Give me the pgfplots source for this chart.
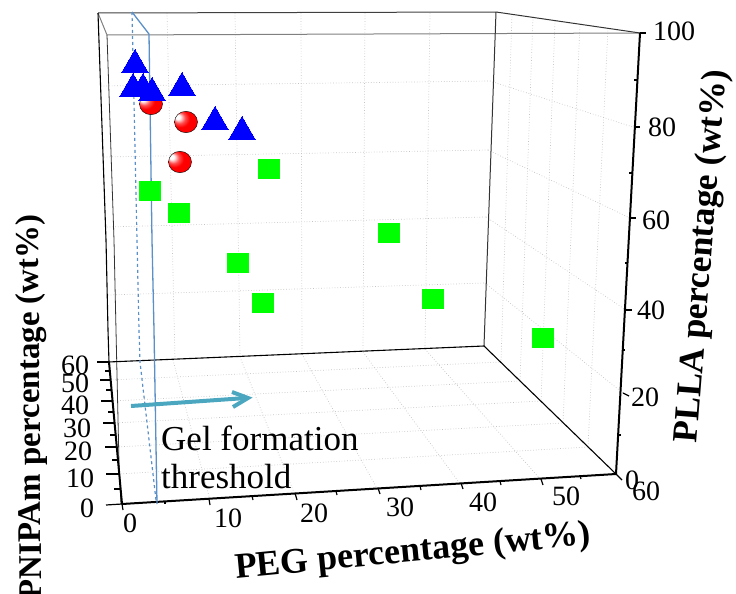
\documentclass[border=0pt]{standalone}
\usepackage{pgfplots}
\pgfplotsset{compat=1.18}
\usepackage{fontspec}
\setmainfont{Liberation Serif}
\definecolor{planeblue}{HTML}{5B8FC7}
\definecolor{arrowteal}{HTML}{4BA7BF}
\definecolor{gridgray}{HTML}{C4C4C4}
\pgfdeclareradialshading{redball}{\pgfpoint{-20bp}{13bp}}{color(0bp)=(white); color(5bp)=(white); color(13bp)=(red!70!white); color(20bp)=(red); color(50bp)=(red)}
\pgfdeclareplotmark{redballround}{\shade[shading=redball,x=\pgfplotmarksize,y=\pgfplotmarksize] (0,0) ellipse (1 and 0.93);}
\pgfplotsset{
  gl/.style={gridgray,line width=0.7pt,dotted,forget plot},
  fr/.style={black,line width=1.1pt,forget plot},
  frthick/.style={black,line width=2pt,forget plot},
  tk/.style={black,line width=1.2pt,forget plot},
}
\begin{document}
\begin{tikzpicture}[x=1pt,y=1pt]
\path[use as bounding box] (0,0) rectangle (736,594);
\begin{axis}[at={(0,0)},anchor=south west,scale only axis,width=736pt,height=594pt,
  xmin=0,xmax=736,ymin=0,ymax=594,y dir=reverse,axis lines=none,clip=false]
% back wall grid
\addplot[gl] coordinates {(167,13)(175,360)};
\addplot[gl] coordinates {(235,13)(240,357)};
\addplot[gl] coordinates {(301,13)(302,354)};
\addplot[gl] coordinates {(365,13)(363,352)};
\addplot[gl] coordinates {(430,13)(425,349)};
\addplot[gl] coordinates {(101,86)(490,81)};
\addplot[gl] coordinates {(104,157)(488,150)};
\addplot[gl] coordinates {(107,227)(486,217)};
\addplot[gl] coordinates {(108,295)(485,283)};
% right wall grid
\addplot[gl] coordinates {(490,81)(633,127)};
\addplot[gl] coordinates {(488,150)(630,218)};
\addplot[gl] coordinates {(486,217)(626,310)};
\addplot[gl] coordinates {(485,283)(623,393)};
\addplot[gl] coordinates {(512,14)(501,362)};
\addplot[gl] coordinates {(533,17)(520,381)};
\addplot[gl] coordinates {(555,21)(541,401)};
\addplot[gl] coordinates {(580,24)(563,423)};
\addplot[gl] coordinates {(608,28)(588,447)};
% floor grid
\addplot[gl] coordinates {(173,360)(210,500)};
\addplot[gl] coordinates {(240,357)(295,495)};
\addplot[gl] coordinates {(302,354)(378,490)};
\addplot[gl] coordinates {(363,352)(461,485)};
\addplot[gl] coordinates {(425,349)(541,480)};
\addplot[gl] coordinates {(110,380)(501,362)};
\addplot[gl] coordinates {(112,401)(520,381)};
\addplot[gl] coordinates {(114,423)(541,401)};
\addplot[gl] coordinates {(116,447)(563,423)};
\addplot[gl] coordinates {(118,474)(588,447)};
% box
\addplot[black!75,line width=1pt,forget plot] coordinates {(98,13)(496,12)};
\addplot[gray,line width=1pt,forget plot] coordinates {(98,13)(107,35)(640,33)};
\addplot[black!80,line width=1pt,forget plot] coordinates {(496,12)(640,33)};
\addplot[black!80,line width=1pt,forget plot] coordinates {(496,12)(484,346)};
\addplot[black!80,line width=0.8pt,forget plot] coordinates {(107,35)(114,240)(116,330)(119,463)(121,504)};
\addplot[fr] coordinates {(98,13)(106,240)(108,330)(109,362)};
\addplot[frthick] coordinates {(109,362)(122,504)};
\addplot[fr] coordinates {(108,362)(484,346)(616,474)};
\addplot[frthick] coordinates {(122,504)(616,474)};
\addplot[frthick] coordinates {(640,33)(616,474)};
% right ticks
\addplot[tk] coordinates {(640,33)(646,33)};
\addplot[tk] coordinates {(637,80)(634,80)};
\addplot[tk] coordinates {(634,127)(640,127)};
\addplot[tk] coordinates {(632,173)(629,173)};
\addplot[tk] coordinates {(630,218)(636,218)};
\addplot[tk] coordinates {(628,263)(625,263)};
\addplot[tk] coordinates {(626,310)(632,310)};
\addplot[tk] coordinates {(625,350)(622,350)};
\addplot[tk] coordinates {(623,393)(629,396)};
\addplot[tk] coordinates {(621,435)(618,435)};
\addplot[tk] coordinates {(616,474)(622,480)};
% x ticks
\addplot[tk] coordinates {(122,504)(123,510)};
\addplot[tk] coordinates {(165,501)(165,504)};
\addplot[tk] coordinates {(209,499)(210,505)};
\addplot[tk] coordinates {(252,496)(253,500)};
\addplot[tk] coordinates {(295,493)(297,500)};
\addplot[tk] coordinates {(336,491)(337,495)};
\addplot[tk] coordinates {(378,488)(380,494)};
\addplot[tk] coordinates {(420,486)(421,490)};
\addplot[tk] coordinates {(461,483)(463,489)};
\addplot[tk] coordinates {(500,481)(501,485)};
\addplot[tk] coordinates {(541,479)(543,485)};
\addplot[tk] coordinates {(580,476)(581,479)};
% z ticks
\addplot[tk] coordinates {(97,362)(109,362)};
\addplot[tk] coordinates {(105,371)(110,371)};
\addplot[tk] coordinates {(100,380)(110,380)};
\addplot[tk] coordinates {(106,390)(111,390)};
\addplot[tk] coordinates {(101,401)(112,401)};
\addplot[tk] coordinates {(108,412)(113,412)};
\addplot[tk] coordinates {(103,423)(114,423)};
\addplot[tk] coordinates {(110,435)(115,435)};
\addplot[tk] coordinates {(105,447)(116,447)};
\addplot[tk] coordinates {(112,460)(117,460)};
\addplot[tk] coordinates {(106,474)(119,474)};
\addplot[tk] coordinates {(114,489)(120,489)};
\addplot[tk] coordinates {(106,505)(122,504)};
% threshold plane
\addplot[planeblue,line width=1.2pt,dashed,forget plot] coordinates {(132,12)(137,240)(139,330)(140,362)(156,500)};
\addplot[planeblue,line width=1.3pt,forget plot] coordinates {(132,12)(149,34)(152,240)(154,330)(157,504)};
% arrow
\addplot[arrowteal,line width=4pt,forget plot] coordinates {(131,406)(246,398)};
\addplot[arrowteal,line width=4pt,forget plot] coordinates {(232,392)(248,398)(233,407)};
% data
\addplot[only marks,mark=square*,mark size=10,mark options={fill=green,draw=green,line width=0pt,xscale=1.04,yscale=.95}] coordinates {
 (150,191)(179,213)(269,169)(389,233)(238,263)(263,303)(433,299)(543,338)};
\addplot[only marks,mark=redballround,mark size=11.5] coordinates {(151,104)(186,122)(180,162)};
\addplot[only marks,mark=triangle*,mark size=15.5,mark options={fill=blue,draw=blue,line width=0pt}] coordinates {
 (135,65)(133,89)(143,89)(152,93)(182,88)(215,122)(242,132)};
% text
\node[anchor=base west,inner sep=0pt,font=\fontsize{35}{35}\selectfont] at (axis cs:161,450) {Gel formation};
\node[anchor=base west,inner sep=0pt,font=\fontsize{35}{35}\selectfont] at (axis cs:161,488) {threshold};
\node[font=\fontsize{36}{36}\selectfont\bfseries,rotate=5.5] at (axis cs:413,553) {PEG percentage (wt\%)};
\node[font=\fontsize{35.5}{35.5}\selectfont\bfseries,rotate=85.5] at (axis cs:703,256) {PLLA percentage (wt\%)};
\node[font=\fontsize{33}{33}\selectfont\bfseries,rotate=90.5] at (axis cs:32,407) {PNIPAm percentage (wt\%)};
% tick labels
\foreach \x/\y/\t in {674/31/100,662/127/80,656/220/60,651/310/40,645/397/20,632/480/0,646/491/60,
 130/523/0,228/518/10,314/513/20,400/507/30,483/502/40,566/496/50,
 75/365/60,75/383/50,75/405/40,77/428/30,78/451/20,80/478/10,87/508/0}{
 \edef\temp{\noexpand\node[font=\noexpand\fontsize{28}{28}\noexpand\selectfont] at (axis cs:\x,\y) {\t};}\temp
}
\end{axis}
\end{tikzpicture}
\end{document}
